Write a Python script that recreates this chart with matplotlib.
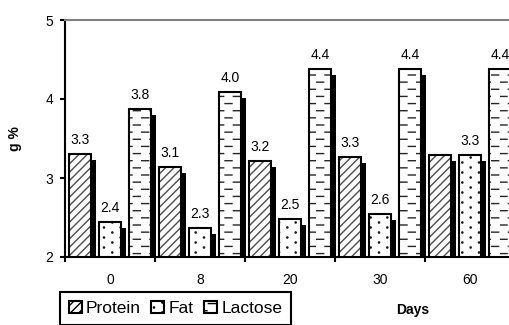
import numpy as np
import matplotlib
matplotlib.use('Agg')
import matplotlib.pyplot as plt
import matplotlib.hatch as mhatch
import matplotlib.patheffects as pe
from matplotlib.patches import Patch
from matplotlib.path import Path

# values
days = ['0', '8', '20', '30', '60']
protein = [3.30, 3.14, 3.22, 3.27, 3.29]
fat = [2.44, 2.37, 2.48, 2.54, 3.29]
lactose = [3.87, 4.09, 4.38, 4.38, 4.38]
protein_labels = ['3.3', '3.1', '3.2', '3.3', '']
fat_labels = ['2.4', '2.3', '2.5', '2.6', '3.3']
lactose_labels = ['3.8', '4.0', '4.4', '4.4', '4.4']


# Excel-like patterns: short staggered dashes for '-', staggered dots for '.'
class BrickPattern(mhatch.HatchPatternBase):
    rows, cols, char = 0, 0, ''

    def __init__(self, hatch, density):
        on = self.char in hatch
        self.n_rows = self.rows if on else 0
        self.num_vertices = self.n_rows * self.cols * len(self.shape_v)

    def set_vertices_and_codes(self, vertices, codes):
        k = 0
        n = len(self.shape_v)
        for r in range(self.n_rows):
            y = (r + 0.5) / self.n_rows
            shift = 0.5 / self.cols if r % 2 else 0.0
            for c in range(self.cols):
                x0 = c / self.cols + shift + self.x_pad
                vertices[k:k + n] = self.shape_v + [x0, y]
                codes[k:k + n] = self.shape_c
                k += n


class DashPattern(BrickPattern):
    rows, cols, char, x_pad = 14, 6, '-', 0.0
    shape_v = np.array([[0.0, 0.0], [0.07, 0.0]])
    shape_c = np.array([Path.MOVETO, Path.LINETO], dtype=Path.code_type)


class DotPattern(BrickPattern):
    rows, cols, char, x_pad = 20, 6, '.', 0.04
    shape_v = Path.unit_circle().vertices * 0.006
    shape_c = Path.unit_circle().codes


swap = {mhatch.HorizontalHatch: DashPattern, mhatch.SmallFilledCircles: DotPattern}
mhatch._hatch_types = [swap.get(t, t) for t in mhatch._hatch_types]

plt.rcParams['font.family'] = ['Liberation Sans', 'DejaVu Sans']
plt.rcParams['hatch.linewidth'] = 1.0

fig = plt.figure(figsize=(5.1, 3.25), dpi=100)
ax = fig.add_axes([65 / 510, 1 - 257 / 325, 450 / 510, 237 / 325])

x = np.arange(len(days))
width = 0.24
shadow = [pe.SimplePatchShadow(offset=(3.6, -4.3), shadow_rgbFace='black',
                               alpha=1.0, hatch=None), pe.Normal()]

series = [
    (protein, protein_labels, '////', '#4d4d4d', -1 / 3),
    (fat, fat_labels, '.', '#1a1a1a', 0.0),
    (lactose, lactose_labels, '-', '#262626', 1 / 3),
]
for vals, labs, hatch, hcol, off in series:
    fill = ax.bar(x + off, vals, width, color='white', edgecolor=hcol,
                  linewidth=0, hatch=hatch, zorder=2)
    for b in fill:
        b.set_path_effects(shadow)
    outline = ax.bar(x + off, vals, width, fill=False, edgecolor='black',
                     linewidth=1.5, zorder=3)
    ax.bar_label(outline, labels=labs, padding=5, fontsize=10)

ax.set_xlim(-0.5, 4.5)
ax.set_ylim(2, 5)
ax.set_yticks([2, 3, 4, 5])
ax.set_xticks(np.arange(-0.5, 4.6, 1))
ax.set_xticklabels([])
ax.set_xticks(x, days, minor=True)
ax.tick_params(axis='x', which='minor', length=0, pad=11.5, labelsize=10)
ax.tick_params(axis='x', which='major', length=3.6, width=1.5)
ax.tick_params(axis='y', length=3.6, width=1.5, pad=5, labelsize=10)

for s in ['left', 'bottom']:
    ax.spines[s].set_linewidth(1.5)
for s in ['top', 'right']:
    ax.spines[s].set_color('#808080')
    ax.spines[s].set_linewidth(1.5)

ax.set_ylabel('g %', fontsize=10, fontweight='bold')
ax.yaxis.set_label_coords(-0.096, 0.5)
ax.set_xlabel('Days', fontsize=10, fontweight='bold')
ax.xaxis.set_label_coords(0.773, -0.194)

handles = [Patch(facecolor='white', edgecolor='black', linewidth=1.5, hatch=h, label=n)
           for h, n in zip(['////', '.', '-'], ['Protein', 'Fat', 'Lactose'])]
leg = fig.legend(handles=handles, loc='upper left', bbox_to_anchor=(60 / 510, 1 - 292 / 325),
                 ncol=3, fontsize=12.5, fancybox=False, edgecolor='black', framealpha=1,
                 borderaxespad=0, handlelength=0.75, handleheight=0.75,
                 handletextpad=0.25, columnspacing=0.6, borderpad=0.5)
leg.get_frame().set_linewidth(1.5)

fig.savefig('out.png', dpi=100)
